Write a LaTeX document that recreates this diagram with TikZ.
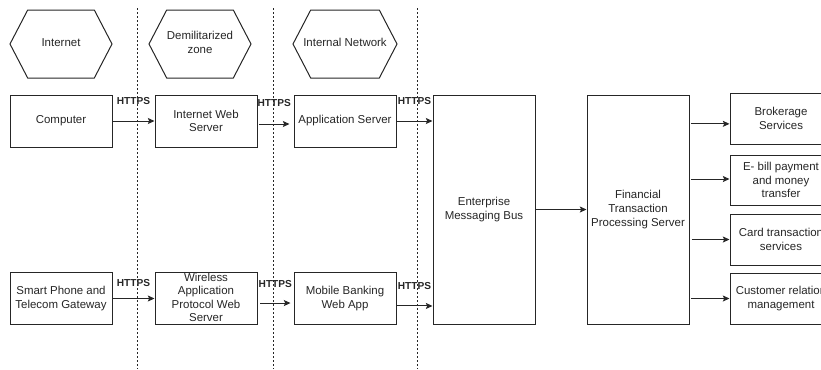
\documentclass[tikz,border=0pt]{standalone}
\usepackage{fontspec}
\setmainfont{Liberation Sans}
\usepackage{xcolor}
\colorlet{fgcolor}{black!85}
\usepackage{tikz}
\usetikzlibrary{positioning, shapes.symbols, arrows.meta}
\tikzset{
    text=fgcolor,
    arrow/.style={ -{Stealth[length=5pt, width=4.5pt, inset=1pt]}, draw=fgcolor, line width=0.75pt },
    % Boxes for servers and clients
    box/.style={ rectangle, draw=fgcolor, line width=0.75pt, minimum width=76.5pt, minimum height=39pt, inner sep=1pt, align=center, font=\fontsize{8.6}{10.2}\selectfont },
    tallbox/.style={ box, minimum height=171.75pt },
    % Network zones
    zone/.style={ signal, signal to=east and west, signal from=nowhere, signal pointer angle=125, draw=fgcolor, line width=0.75pt, minimum width=76.5pt, minimum height=51pt, inner sep=0pt, font=\fontsize{8.6}{10.2}\selectfont },
    % Protocol labels and zone borders
    proto/.style={ inner sep=0pt, font=\fontsize{7.6}{9}\selectfont\bfseries },
    border/.style={ draw=fgcolor, line width=0.75pt, dash pattern=on 1.5pt off 1.5pt },
}
% zone text takes no width, so every zone keeps the same outline
\newcommand{\zonelabel}[1]{\makebox[0pt]{\begin{tabular}{@{}c@{}}#1\end{tabular}}}

\begin{document}
\begin{tikzpicture}[x=0.75pt, y=-0.75pt]
    \useasboundingbox (0,0) rectangle (821,369);
    \clip (0,0) rectangle (821,369);

    % Zones
    \node[zone] (internet) at (61,44) {\zonelabel{Internet}};
    \node[zone] (dmz) at (200,44) {\zonelabel{Demilitarized\\zone}};
    \node[zone, minimum width=78pt] (intranet) at (345,44) {\zonelabel{Internal Network}};

    % Zone borders
    \coordinate (border-a) at (137,8);
    \coordinate (border-b) at (273,8);
    \coordinate (border-c) at (417,8);
    \draw[border] (border-a) -- (border-a |- 0,369);
    \draw[border] (border-b) -- (border-b |- 0,369);
    \draw[border] (border-c) -- (border-c |- 0,369);

    % Web channel
    \node[box] (computer) at (61,121) {Computer};
    \node[box, right=31.5pt of computer] (web) {Internet Web\\Server};
    \node[box, right=27pt of web] (app) {Application Server};

    % Mobile channel
    \node[box] (phone) at (61,298.5) {Smart Phone and\\Telecom Gateway};
    \node[box, right=31.5pt of phone] (wap) {\smash{\raisebox{-2.5pt}{\begin{tabular}{@{}c@{}}Wireless\\Application\\Protocol Web\\Server\end{tabular}}}};
    \node[box, right=27pt of wap] (mobile) {Mobile Banking\\Web App};

    % Back end
    \node[tallbox] (bus) at (484,209.5) {Enterprise\\Messaging Bus};
    \node[tallbox, right=38.25pt of bus] (ftps) {Financial\\Transaction\\Processing Server};

    % Services
    \node[box, minimum height=38.25pt] (brokerage) at (781,118.5) {Brokerage\\Services};
    \node[box, minimum height=37.5pt] (ebill) at (781,180) {E- bill payment\\and money\\transfer};
    \node[box, minimum height=38.25pt] (card) at (781,239.5) {Card transaction\\services};
    \node[box, minimum height=38.25pt] (crm) at (781,298.5) {Customer relation\\management};

    \draw[arrow] (computer) -- node[proto, yshift=15pt] (https-a) {HTTPS} (web);
    \draw[arrow] ([xshift=1pt, yshift=-2.25pt] web.east) -- node[proto, yshift=15.5pt] (https-b) {HTTPS} ([xshift=-3pt, yshift=-2.25pt] app.west);
    \draw[arrow] (app.east) -- node[proto, yshift=15pt] (https-c) {HTTPS} (app.east -| bus.west);

    \draw[arrow] (phone) -- node[proto, yshift=11.25pt] (https-d) {HTTPS} (wap);
    \draw[arrow] ([xshift=2pt, yshift=-3.4pt] wap.east) -- node[proto, yshift=14.25pt] (https-e) {HTTPS} ([xshift=-2.25pt, yshift=-3.4pt] mobile.west);
    \draw[arrow] ([yshift=-5.6pt] mobile.east) -- node[proto, yshift=15pt] (https-f) {HTTPS} ([yshift=-5.6pt] mobile.east -| bus.west);

    \draw[arrow] (bus) -- (ftps);

    \draw[arrow] ([xshift=1pt, yshift=-4pt] brokerage.west -| ftps.east) -- ([yshift=-4pt] brokerage.west);
    \draw[arrow] ([xshift=1pt, yshift=0.75pt] ebill.west -| ftps.east) -- ([yshift=0.75pt] ebill.west);
    \draw[arrow] ([xshift=1.5pt] card.west -| ftps.east) -- (card.west);
    \draw[arrow] ([xshift=1pt] crm.west -| ftps.east) -- (crm.west);
\end{tikzpicture}
\end{document}
